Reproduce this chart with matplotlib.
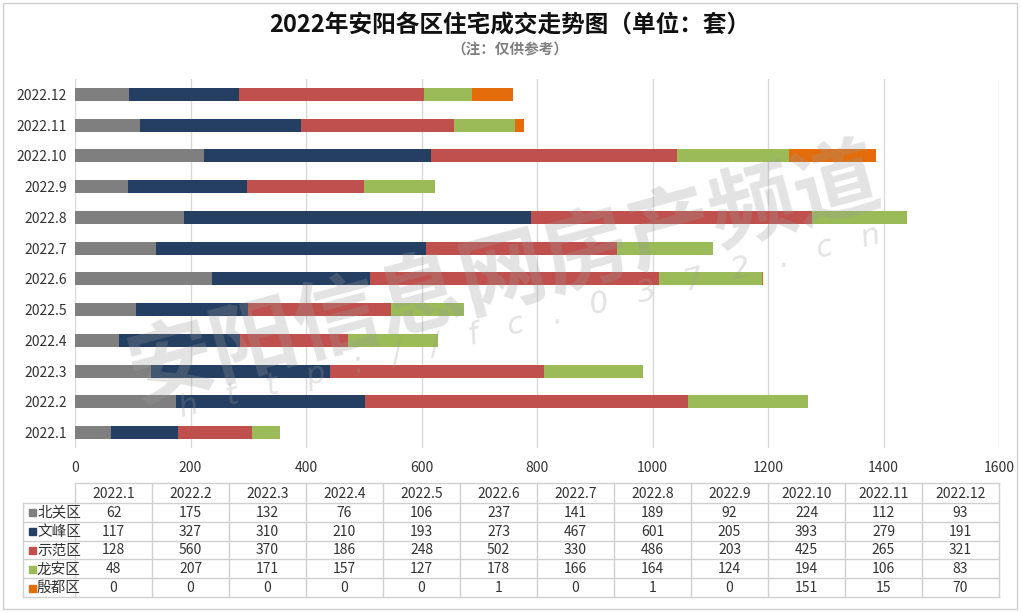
import matplotlib
matplotlib.use("Agg")
import matplotlib.pyplot as plt
from matplotlib.patches import Rectangle

plt.rcParams['font.family'] = ['Noto Sans CJK SC', 'DejaVu Sans']

months = ["2022.1", "2022.2", "2022.3", "2022.4", "2022.5", "2022.6",
          "2022.7", "2022.8", "2022.9", "2022.10", "2022.11", "2022.12"]
districts = ["北关区", "文峰区", "示范区", "龙安区", "殷都区"]
beiguan = [62, 175, 132, 76, 106, 237, 141, 189, 92, 224, 112, 93]
wenfeng = [117, 327, 310, 210, 193, 273, 467, 601, 205, 393, 279, 191]
shifan = [128, 560, 370, 186, 248, 502, 330, 486, 203, 425, 265, 321]
longan = [48, 207, 171, 157, 127, 178, 166, 164, 124, 194, 106, 83]
yindu = [0, 0, 0, 0, 0, 1, 0, 1, 0, 151, 15, 70]
series = [beiguan, wenfeng, shifan, longan, yindu]
colors = ["#7F7F7F", "#243F62", "#C0504D", "#9BBB59", "#E46C0A"]
xticks = [0, 200, 400, 600, 800, 1000, 1200, 1400, 1600]

W, H = 1021, 613
fig = plt.figure(figsize=(W / 100, H / 100), dpi=100)
fig.patch.set_facecolor("white")

def fx(px):
    return px / W

def fy(py):
    return 1 - py / H

# outer frame
fig.add_artist(Rectangle((fx(3), fy(609)), fx(1014), 606 / H, transform=fig.transFigure,
                         fill=False, edgecolor="#D0D0D0", lw=1.0))

ax_l, ax_r, ax_t, ax_b = 75, 999, 79, 448
ax = fig.add_axes([fx(ax_l), fy(ax_b), fx(ax_r - ax_l), (ax_b - ax_t) / H])
ypos = list(range(len(months)))
left = [0] * len(months)
for vals, c, name in zip(series, colors, districts):
    ax.barh(ypos, vals, left=left, height=0.42, color=c, label=name, zorder=3)
    left = [a + b for a, b in zip(left, vals)]
ax.set_xlim(0, 1600)
ax.set_ylim(-0.5, len(months) - 0.5)
ax.set_yticks(ypos)
ax.set_yticklabels(months, fontsize=10, color="#333333")
ax.set_xticks(xticks)
ax.set_xticklabels([str(v) for v in xticks], fontsize=10, color="#333333")
ax.tick_params(length=0)
ax.tick_params(axis='x', pad=9)
ax.tick_params(axis='y', pad=6)
ax.grid(axis='x', color="#D9D9D9", lw=1, zorder=0)
for s in ax.spines.values():
    s.set_visible(False)

# titles
fig.text(fx(510), fy(26), "2022年安阳各区住宅成交走势图（单位：套）", ha="center", va="center",
         fontsize=17, fontweight="bold", color="#111111")
fig.text(fx(510), fy(49), "（注：仅供参考）", ha="center", va="center",
         fontsize=10.5, fontweight="bold", color="#7F7F7F")

# data table
tab_l, lab_r, tab_r = 23, 75, 999
head_t, head_b = 483, 503
row_h = 18.8
ncol = len(months)
col_w = (tab_r - lab_r) / ncol
tax = fig.add_axes([0, 0, 1, 1], facecolor="none")
tax.set_xlim(0, W)
tax.set_ylim(H, 0)
tax.axis("off")
lc = "#D0D0D0"
bottom = head_b + row_h * len(districts)
tax.plot([lab_r, tab_r], [head_t, head_t], color=lc, lw=1)
for i in range(len(districts) + 1):
    y = head_b + i * row_h
    tax.plot([tab_l, tab_r], [y, y], color=lc, lw=1)
tax.plot([tab_l, tab_l], [head_b, bottom], color=lc, lw=1)
for j in range(ncol + 1):
    x = lab_r + j * col_w
    tax.plot([x, x], [head_t, bottom], color=lc, lw=1)
for j, m in enumerate(months):
    tax.text(lab_r + (j + 0.5) * col_w, (head_t + head_b) / 2 + 1, m, ha="center", va="center",
             fontsize=10, color="#333333")
for i, (name, vals, c) in enumerate(zip(districts, series, colors)):
    yc = head_b + (i + 0.5) * row_h + 0.5
    tax.add_patch(Rectangle((28.5, yc - 3.5), 7, 7, color=c))
    tax.text(37, yc, name, ha="left", va="center", fontsize=10.5, color="#333333")
    for j, v in enumerate(vals):
        tax.text(lab_r + (j + 0.5) * col_w, yc, str(v), ha="center", va="center",
                 fontsize=10, color="#333333")

# watermark
fig.text(fx(505), fy(275), "安阳信息网房产频道", ha="center", va="center", rotation=15,
         fontsize=62, fontweight="bold", color="#9A9A9A", alpha=0.28, zorder=10)
fig.text(fx(530), fy(322), "   ".join("http://fc.0372.cn"), ha="center", va="center",
         rotation=14, fontsize=22, style="italic", color="#9A9A9A", alpha=0.28, zorder=10,
         family=["DejaVu Sans"])

fig.savefig("out.png", dpi=100)
